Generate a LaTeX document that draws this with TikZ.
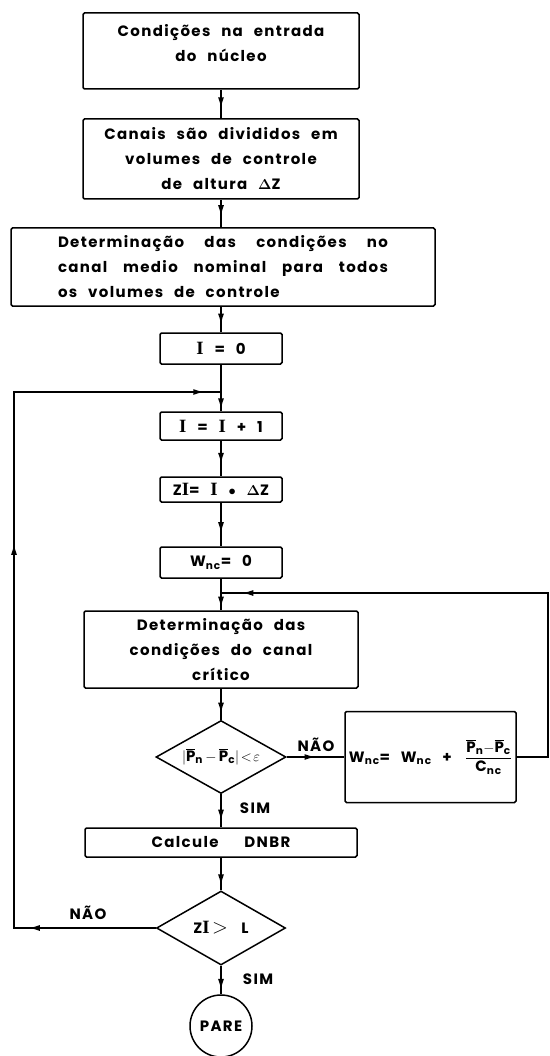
\documentclass[tikz,border=0pt]{standalone}
\usepackage[no-math]{fontspec}
\setmainfont{Poppins}[LetterSpace=9,WordSpace=2.4]
\newfontfamily\serifI{Liberation Serif}[Scale=1.25]
\usetikzlibrary{arrows.meta,shapes.geometric,decorations.markings}
\newcommand{\Iv}{{\serifI\bfseries I}}
\newcommand{\Pb}[1]{$\overline{\mbox{P}}$\textsubscript{#1}}
\newcommand{\Wnc}{W\textsubscript{nc}}

\begin{document}
\begin{tikzpicture}[
  x=1pt, y=-1pt,
  every node/.style={font=\fontsize{15}{25}\selectfont\bfseries},
  blk/.style={draw, line width=1.5pt, rounded corners=1.5pt, align=center,
              inner sep=0pt},
  dec/.style={draw, line width=1.5pt, diamond, inner sep=0pt},
  flow/.style={line width=1.5pt},
  tipat/.style={postaction={decorate, decoration={markings,
      mark=at position #1 with {\arrow{Latex[length=11pt,width=6pt]}}}}}
]
  \useasboundingbox (0,0) rectangle (549,1056);
  % main column
  \node[blk, minimum width=276pt, minimum height=76pt] (entr) at (221,51)
       {Condições na entrada\\do núcleo\\[-8pt]\mbox{}};
  \node[blk, minimum width=276pt, minimum height=80pt] (canais) at (221,159)
       {Canais são divididos em\\volumes de controle\\de altura $\mathbf{\Delta}$Z};
  \node[blk, minimum width=424pt, minimum height=78pt, align=justify,
        text width=330pt] (medio) at (223,267)
       {Determinação das condições no\linebreak canal medio nominal para todos\linebreak os volumes de controle};
  \node[blk, minimum width=122pt, minimum height=31pt] (izero) at (221,348.5)
       {\Iv\ = 0};
  \node[blk, minimum width=122pt, minimum height=28pt] (iinc) at (221,426)
       {\Iv\ = \Iv\ + 1};
  \node[blk, minimum width=122pt, minimum height=25pt] (zi) at (221,489.5)
       {Z\Iv= \Iv\ $\bullet$ $\mathbf{\Delta}$Z};
  \node[blk, minimum width=122pt, minimum height=31pt] (wzero) at (221,562.5)
       {\Wnc= 0};
  \node[blk, minimum width=274pt, minimum height=77pt] (crit) at (221,649.5)
       {Determinação das\\condições do canal\\crítico};
  \node[dec, minimum width=130pt, minimum height=73pt] (conv) at (221,757)
       {\makebox[0pt]{$|$\Pb{n}$\,-\,$\Pb{c}$|\!<\!\varepsilon$}};
  \node[blk, minimum width=171pt, minimum height=91pt] (wnew) at (430.5,757)
       {\Wnc= \Wnc\ + \,$\displaystyle\frac{\mbox{\Pb{n}$-$\Pb{c}}}{\mbox{C\textsubscript{nc}}}$};
  \node[blk, minimum width=272pt, minimum height=29pt] (dnbr) at (221,842.5)
       {Calcule \quad DNBR};
  \node[dec, minimum width=129pt, minimum height=74pt] (fim) at (221,928)
       {\makebox[0pt]{Z\Iv\,{\fontsize{22}{22}\selectfont$>$}\, L}};
  \node[draw, circle, line width=1.5pt, minimum size=62pt, inner sep=0pt]
       (pare) at (221,1026) {PARE};

  % labels
  \node (naoa) at (316,745) {NÃO};
  \node (sima) at (255,808) {SIM};
  \node (naob) at (88,913) {NÃO};
  \node (simb) at (258,979) {SIM};

  % corners
  \coordinate (jtop) at (221,392);
  \coordinate (jmid) at (221,593);
  \coordinate (lc1) at (14,928);
  \coordinate (lc2) at (14,392);
  \coordinate (rc1) at (548,757);
  \coordinate (rc2) at (548,593);

  % connectors
  \draw[flow, tipat=0.65] (entr) -- (canais);
  \draw[flow, tipat=0.6] (canais) -- (medio.north -| canais);
  \draw[flow, tipat=0.7] (medio.south -| izero) -- (izero);
  \draw[flow] (izero) -- (jtop);
  \draw[flow, tipat=0.9] (jtop) -- (iinc);
  \draw[flow, tipat=0.65] (iinc) -- (zi);
  \draw[flow, tipat=0.7] (zi) -- (wzero);
  \draw[flow] (wzero) -- (jmid);
  \draw[flow, tipat=0.85] (jmid) -- (crit);
  \draw[flow, tipat=0.8] (crit) -- (conv);
  \draw[flow, tipat=0.5] (conv) -- (wnew);
  \draw[flow, tipat=501pt] (wnew.east) -- (rc1) -- (rc2) -- (jmid);
  \draw[flow, tipat=0.8] (conv) -- (dnbr);
  \draw[flow, tipat=0.85] (dnbr) -- (fim);
  \draw[flow, tipat=0.85] (fim) -- (pare);
  \draw[flow, tipat=127pt, tipat=526pt, tipat=868pt]
       (fim.west) -- (lc1) -- (lc2) -- (jtop);
\end{tikzpicture}
\end{document}
